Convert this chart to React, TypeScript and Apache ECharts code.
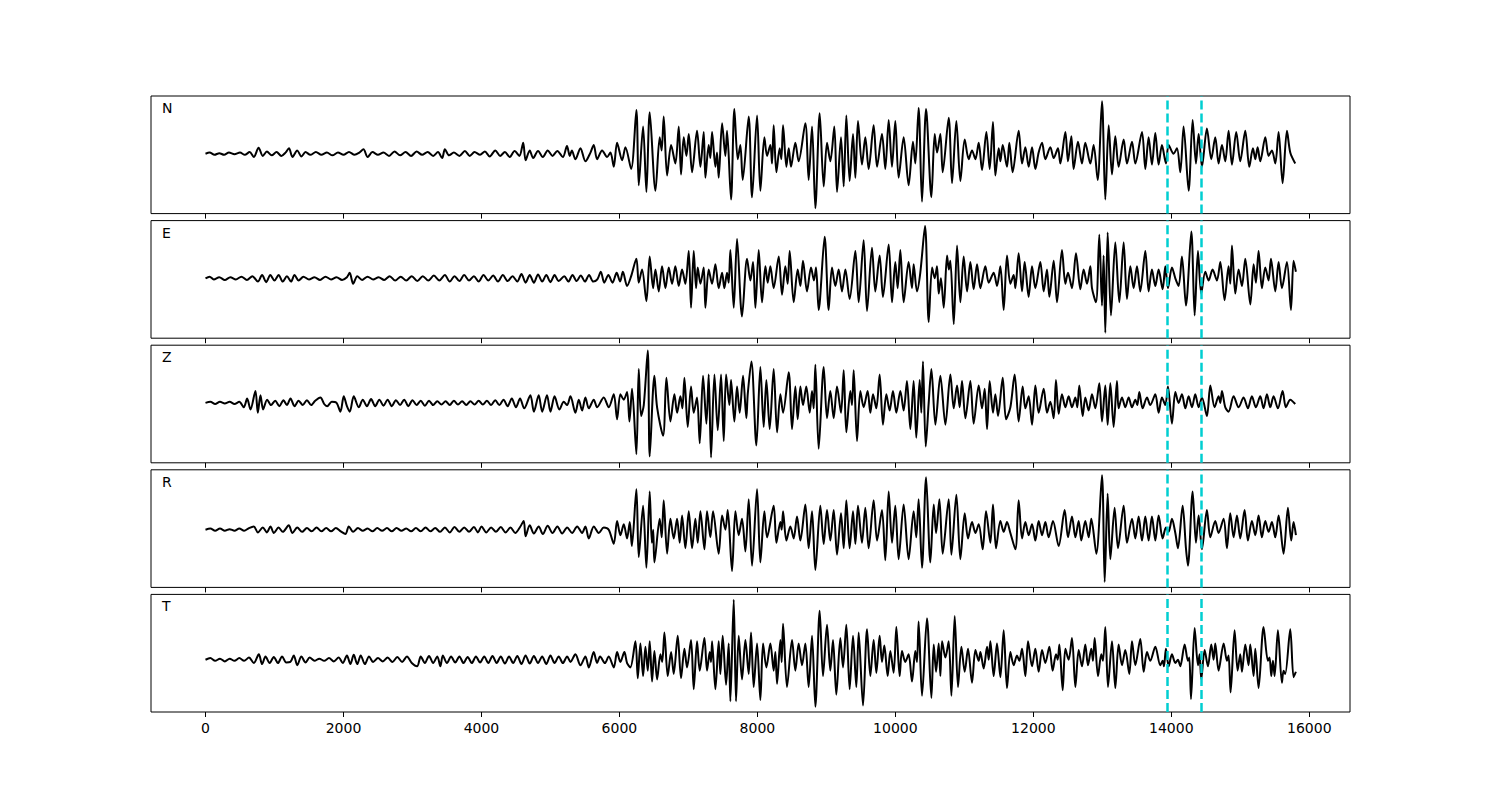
import React, { useEffect, useRef } from 'react';
import * as echarts from 'echarts';

const CHANNELS = ['N', 'E', 'Z', 'R', 'T'];
const MARKERS = [13940, 14430];
const X_TICKS = [0, 2000, 4000, 6000, 8000, 10000, 12000, 14000, 16000];
const X_MIN = -790;
const X_MAX = 16590;

const TRACE_N: number[][] = [[0,0],[60,1],[130,-1],[200,0.5],[270,-1],[340,1],[420,-0.5],[500,1],[570,-1],[640,1.5],[700,-3],[770,5.5],[830,-2],[890,2],[960,-1.5],[1030,1.5],[1100,-2],[1160,1],[1210,5],[1260,-3],[1330,3],[1390,-2.5],[1450,1.5],[1520,-1],[1600,1.5],[1680,-1],[1760,1],[1840,-1.5],[1920,1],[2000,-1],[2080,1.5],[2160,-1],[2230,1],[2290,4],[2350,-3],[2420,1.5],[2500,-1],[2580,1],[2660,-2],[2740,2],[2820,-1.5],[2900,1.5],[2980,-2],[3060,2],[3140,-1],[3220,1.5],[3300,-2],[3370,1.5],[3430,-4],[3470,4],[3530,-1.5],[3600,1],[3680,-2],[3760,2.5],[3830,-2],[3900,1.5],[3980,-1],[4050,2],[4120,-2.5],[4200,3],[4270,-2],[4340,1.5],[4410,-3],[4480,2.5],[4550,-2],[4605,10],[4640,-6],[4700,3],[4750,-4],[4820,2.5],[4890,-3],[4960,3],[5030,-2],[5100,2.5],[5180,-3],[5240,7],[5280,-2],[5310,3],[5362,-5],[5435,5],[5507,-7],[5580,1],[5628,8],[5676,-5],[5749,3],[5821,-3],[5870,1],[5918,-12],[5966,10],[6039,-6],[6087,6],[6170,-14],
[6246,40],[6280,-29],[6343,25],[6391,-35],[6439,38],[6522,-34],[6584,15],[6612,3],[6642,34],[6691,-20],[6749,8],[6811,-9],[6860,25],[6893,-19],[6932,15],[6971,-2],[7005,18],[7053,-17],[7125,21],[7174,-12],[7222,20],[7246,-22],[7294,8],[7318,-4],[7343,20],[7391,-12],[7415,1],[7439,-22],[7488,28],[7536,-2],[7560,21],[7618,-42],[7666,41],[7715,-5],[7753,8],[7787,-24],[7874,34],[7922,-40],[7995,35],[8043,-34],[8101,15],[8140,-2],[8188,8],[8212,-9],[8236,26],[8275,-17],[8323,5],[8347,-5],[8372,26],[8420,-12],[8454,5],[8487,-12],[8550,10],[8598,-7],[8695,28],[8743,-24],[8792,25],[8840,-50],[8903,37],[8961,-30],[9009,10],[9057,-7],[9115,25],[9154,-35],[9212,15],[9251,-30],[9289,35],[9337,-25],[9386,18],[9420,-22],[9458,30],[9516,-10],[9564,15],[9613,-14],[9685,26],[9734,-12],[9806,18],[9854,-14],[9903,31],[9951,-12],[9999,30],[10047,-22],[10120,15],[10192,-29],[10255,11],[10289,-9],[10337,42],[10386,-44],[10445,41],[10522,-40],[10570,18],[10604,1],[10652,18],[10686,-17],[10773,33],[10821,-27],[10884,30],[10942,-25],[11005,13],[11063,-5],[11111,3],[11160,-5],[11208,10],[11256,-15],[11319,20],[11367,-14],[11415,29],[11449,-20],[11498,5],[11522,-7],[11556,8],[11618,-12],[11652,10],[11700,-17],[11787,21],[11836,-9],[11884,6],[11932,-12],[11981,6],[12029,-14],[12077,1],[12126,10],[12174,-5],[12246,6],[12295,-4],[12357,5],[12391,-9],[12464,20],[12502,-7],[12551,16],[12584,-14],[12647,11],[12705,-9],[12753,10],[12826,-9],[12874,8],[12932,-24],[12995,48],[13043,-42],[13092,26],[13140,-19],[13188,16],[13236,-12],[13309,13],[13357,-9],[13430,11],[13478,-9],[13575,20],[13623,-14],[13671,15],[13719,-10],[13768,19],[13816,-10],[13864,8],[13922,-9],[13961,8],[14033,0],[14082,5],[14130,-17],[14178,25],[14251,-34],[14309,31],[14357,-9],[14396,18],[14444,-12],[14516,23],[14579,-5],[14637,15],[14685,-9],[14734,8],[14782,-7],[14830,21],[14879,-10],[14941,20],[14999,-7],[15072,21],[15130,-12],[15183,5],[15217,-5],[15251,6],[15289,-7],[15362,15],[15410,-2],[15458,3],[15507,-9],[15555,20],[15613,-27],[15676,21],[15724,1],[15796,-9]];

const TRACE_E: number[][] = [[0,0],[60,1.5],[120,-1],[200,1],[280,-1.5],[360,1],[440,-1],[520,1.5],[600,-1.5],[680,2],[760,-3],[820,3],[880,-3.5],[940,3],[1000,-2],[1060,3],[1120,-3],[1180,2],[1240,-3],[1290,3],[1350,-2],[1420,1.5],[1500,-1],[1580,1],[1660,-1.5],[1740,1.5],[1820,-1],[1900,1],[1980,-1.5],[2050,1],[2090,5],[2140,-5],[2200,2],[2270,-1.5],[2350,1.5],[2430,-1],[2510,1],[2590,-1.5],[2670,2],[2750,-2],[2830,1.5],[2910,-2],[2990,2],[3070,-2.5],[3150,2],[3230,-2],[3310,2.5],[3390,-2],[3470,3],[3540,-3],[3610,2],[3680,-2.5],[3750,3],[3820,-2],[3890,2],[3960,-3],[4030,3],[4100,-2],[4170,2.5],[4240,-3],[4310,3],[4380,-2.5],[4450,2],[4520,-3],[4580,4],[4640,-4],[4700,3],[4760,-4],[4820,3.5],[4880,-3],[4940,3],[5000,-3.5],[5060,3],[5120,-2.5],[5200,2],[5260,-3],[5320,3],[5380,-2.5],[5440,2.5],[5500,-3],[5560,3],[5620,-3],[5680,-1],[5730,6],[5780,-4],[5840,3],[5900,-4],[5960,5],[6010,-3],[6050,6],[6111,-7],[6170,2],
[6246,18],[6280,-4],[6328,8],[6391,-21],[6439,20],[6488,-9],[6522,8],[6570,-12],[6618,11],[6667,-9],[6715,10],[6763,-5],[6811,11],[6860,-7],[6908,8],[6956,-5],[7005,25],[7038,-27],[7077,25],[7111,-9],[7135,10],[7174,-5],[7222,10],[7246,-27],[7294,8],[7343,-5],[7391,13],[7439,-9],[7488,5],[7521,-9],[7560,5],[7584,-4],[7608,26],[7657,-27],[7705,36],[7777,-35],[7850,18],[7898,-2],[7937,15],[7971,-27],[8019,26],[8067,-22],[8116,11],[8149,-4],[8188,11],[8236,-9],[8309,20],[8357,-15],[8405,11],[8439,-5],[8468,25],[8526,-22],[8584,8],[8623,-7],[8661,16],[8719,-12],[8777,10],[8820,-2],[8850,10],[8888,-29],[8975,38],[9033,-29],[9081,10],[9130,-7],[9178,8],[9226,-12],[9275,8],[9337,-19],[9420,25],[9468,-22],[9540,35],[9589,-30],[9661,28],[9709,-12],[9772,21],[9820,-17],[9903,31],[9951,-22],[9999,15],[10033,-9],[10072,26],[10120,-22],[10192,15],[10241,-9],[10265,13],[10313,-12],[10361,5],[10430,48],[10483,-40],[10532,10],[10570,0],[10604,11],[10628,-14],[10660,0],[10701,-27],[10749,21],[10775,8],[10797,16],[10846,-42],[10894,30],[10942,-22],[10990,20],[11039,-12],[11087,15],[11135,-10],[11184,13],[11232,-9],[11304,11],[11353,-4],[11425,5],[11473,-7],[11522,11],[11570,-29],[11618,21],[11667,-5],[11715,3],[11739,-9],[11787,23],[11836,-12],[11874,15],[11932,-17],[11981,11],[12029,-9],[12101,15],[12150,-12],[12198,8],[12232,-17],[12295,16],[12343,-22],[12415,26],[12464,-5],[12502,5],[12560,-9],[12618,23],[12681,-10],[12729,8],[12778,-5],[12826,11],[12850,-9],[12908,-22],[12956,40],[12995,-25],[13019,21],[13043,-50],[13077,42],[13125,-34],[13188,33],[13246,-22],[13309,33],[13357,-19],[13406,11],[13454,-9],[13502,11],[13550,-12],[13623,25],[13671,-12],[13719,8],[13768,-7],[13816,8],[13874,-10],[13913,11],[13951,-9],[14009,10],[14058,0],[14106,-7],[14154,20],[14212,-25],[14290,43],[14338,-34],[14386,25],[14434,-14],[14492,6],[14541,-2],[14598,8],[14661,-2],[14710,15],[14772,-20],[14830,11],[14855,-5],[14879,30],[14927,-14],[14975,8],[15024,-7],[15072,18],[15145,-24],[15193,13],[15226,-4],[15265,25],[15313,-9],[15362,10],[15410,-2],[15444,18],[15507,-12],[15555,15],[15603,-9],[15676,15],[15734,-29],[15772,16],[15806,6]];

const TRACE_Z: number[][] = [[0,0],[70,1],[140,-1],[210,1],[280,-0.5],[350,1],[420,-1],[490,1],[555,-4],[604,4],[652,-6],[724,11],[758,-9],[797,7],[835,-6],[893,3],[950,-2],[1010,2],[1070,-3],[1130,2.5],[1180,-2],[1232,4],[1290,-3],[1350,2],[1410,-2],[1470,2.5],[1530,-2],[1590,2],[1666,5],[1720,-1],[1763,-3],[1830,1],[1900,0],[1956,-8],[2004,6],[2050,-3],[2091,-8],[2149,6],[2222,-4],[2280,3],[2340,-3],[2400,3.5],[2460,-3],[2520,3],[2580,-2.5],[2640,3],[2700,-3],[2760,2.5],[2820,-2],[2880,3],[2940,-3],[3000,2.5],[3060,-2],[3120,2],[3180,-2.5],[3240,2],[3300,-2],[3360,1.5],[3420,-1.5],[3480,1.5],[3540,-2],[3600,2],[3660,-1.5],[3720,1.5],[3780,-2],[3840,1.5],[3900,-1.5],[3960,2],[4020,-1.5],[4080,2],[4140,-2],[4200,2.5],[4260,-2],[4320,3],[4380,-3],[4440,4],[4500,-4],[4560,4],[4620,-5],[4709,7],[4760,-8],[4830,7],[4880,-8],[4950,7],[5000,-8],[5060,6],[5130,-6],[5193,1],[5242,-2],[5290,6],[5362,-9],[5411,3],[5459,-7],[5507,5],[5556,-5],[5628,3],[5676,-4],[5773,5],[5845,-4],[5918,8],[5966,-15],[6014,8],[6063,3],[6111,10],[6145,-17],[6183,13],
[6246,-47],[6280,31],[6314,-12],[6353,-2],[6411,48],[6439,-49],[6507,25],[6546,-4],[6633,-30],[6681,23],[6739,-17],[6797,8],[6836,-9],[6884,6],[6913,-5],[6942,23],[6990,-22],[7038,15],[7077,-9],[7125,5],[7164,-37],[7212,25],[7261,-19],[7294,26],[7328,-50],[7377,26],[7425,-25],[7473,26],[7512,-35],[7546,26],[7594,-2],[7618,21],[7666,-17],[7705,15],[7743,-9],[7792,25],[7840,-14],[7860,8],[7913,38],[7985,-39],[8043,33],[8091,-22],[8130,21],[8178,-24],[8236,31],[8285,-27],[8333,8],[8372,-9],[8454,28],[8502,-24],[8550,15],[8584,-15],[8623,15],[8661,-2],[8709,15],[8758,-9],[8792,11],[8816,-5],[8840,35],[8888,-42],[8961,33],[9009,-14],[9057,11],[9106,-14],[9154,15],[9212,-9],[9251,30],[9289,-27],[9347,11],[9371,-2],[9396,30],[9444,-35],[9492,11],[9540,-4],[9598,11],[9637,-9],[9676,8],[9724,-5],[9772,26],[9820,-20],[9869,8],[9917,-7],[9965,11],[10014,-9],[10072,11],[10120,-7],[10168,20],[10217,-24],[10265,20],[10303,-32],[10352,21],[10376,-9],[10400,38],[10440,-40],[10483,0],[10522,31],[10580,-20],[10652,25],[10725,-20],[10797,26],[10846,-5],[10894,16],[10932,-4],[10966,20],[11015,-14],[11087,20],[11135,-19],[11208,16],[11256,-5],[11295,13],[11329,-24],[11367,20],[11415,-9],[11449,8],[11488,-12],[11556,23],[11604,-15],[11667,-4],[11729,26],[11787,-17],[11845,15],[11884,-5],[11932,6],[11981,-20],[12029,16],[12077,-9],[12150,13],[12198,-9],[12246,1],[12295,-14],[12328,21],[12367,-10],[12415,8],[12464,-4],[12512,6],[12560,-4],[12609,5],[12637,-4],[12666,16],[12715,-12],[12753,5],[12802,-7],[12850,8],[12898,-5],[12956,18],[12995,-17],[13043,16],[13077,-20],[13116,18],[13164,-22],[13212,20],[13236,-5],[13285,5],[13333,-4],[13381,5],[13430,-4],[13478,3],[13507,-2],[13536,10],[13584,-5],[13647,5],[13695,-2],[13768,8],[13816,-9],[13864,5],[13913,-2],[13951,15],[14009,-19],[14058,10],[14106,0],[14154,8],[14203,-5],[14251,6],[14299,-4],[14347,8],[14396,-4],[14444,5],[14516,-12],[14565,16],[14627,-4],[14685,6],[14710,0],[14734,11],[14782,-4],[14830,-8],[14903,6],[14975,-4],[15048,5],[15110,-5],[15168,6],[15226,-4],[15289,6],[15337,-5],[15386,8],[15434,-4],[15482,6],[15545,-5],[15613,11],[15661,-4],[15724,3],[15796,-1]];

const TRACE_R: number[][] = [[0,0],[70,1],[140,-1],[210,1],[280,-1],[350,0.5],[420,-1],[490,1],[560,-1],[630,1.5],[700,3],[760,-2.5],[830,2],[890,-2.5],[942,3],[990,-3],[1060,2],[1120,-2],[1207,4],[1260,-3],[1330,2],[1400,-2],[1470,1.5],[1540,-1.5],[1610,2],[1680,-1.5],[1750,1.5],[1820,-1.5],[1890,1.5],[1960,-1.5],[2029,-4],[2077,3],[2140,-2],[2210,1.5],[2280,-1],[2350,1],[2420,-1.5],[2490,1.5],[2560,-1],[2630,1.5],[2700,-1.5],[2770,1.5],[2840,-1],[2910,1],[2980,-1.5],[3050,1.5],[3120,-1.5],[3190,2],[3260,-1.5],[3330,1.5],[3400,-2],[3470,2],[3540,-2.5],[3610,2.5],[3680,-2],[3750,2],[3820,-2],[3890,2.5],[3950,-2.5],[4000,3],[4070,-2.5],[4140,2],[4210,-2],[4280,2.5],[4350,-2.5],[4420,2],[4490,-3],[4560,2.5],[4613,8],[4640,-6],[4700,4],[4760,-3.5],[4830,3],[4890,-4],[4960,3.5],[5030,-3],[5100,3],[5170,-3.5],[5242,2],[5314,-3],[5387,3],[5459,-3],[5507,3],[5556,-8],[5628,3],[5700,-3],[5773,2],[5845,0],[5918,-13],[5966,8],[6014,-5],[6063,5],[6111,-8],[6150,7],[6180,-15],
[6246,37],[6280,-25],[6343,22],[6391,-35],[6439,35],[6470,-12],[6490,0],[6507,-30],[6584,10],[6613,-7],[6642,27],[6691,-22],[6739,10],[6787,-8],[6836,10],[6874,-12],[6908,13],[6956,-17],[7005,17],[7053,-17],[7101,10],[7135,-12],[7174,17],[7232,-18],[7270,17],[7318,-7],[7357,17],[7439,-22],[7488,13],[7536,0],[7570,18],[7632,-38],[7681,17],[7729,-5],[7777,10],[7826,-20],[7874,28],[7922,-33],[7995,37],[8043,-30],[8101,17],[8140,-7],[8236,22],[8275,-12],[8333,7],[8352,0],[8372,17],[8420,-10],[8478,3],[8526,-8],[8574,12],[8623,-10],[8695,23],[8743,-17],[8792,17],[8840,-37],[8912,22],[8961,-13],[9009,18],[9057,-10],[9106,18],[9154,-23],[9212,15],[9251,-17],[9289,27],[9337,-17],[9386,17],[9420,-13],[9458,22],[9516,-12],[9564,20],[9613,-17],[9685,27],[9734,-10],[9806,18],[9854,-28],[9903,35],[9951,-12],[9999,22],[10047,-27],[10120,23],[10192,-27],[10265,17],[10303,-7],[10337,28],[10386,-35],[10445,48],[10507,-30],[10556,23],[10590,-3],[10638,28],[10686,-22],[10773,28],[10812,-23],[10884,32],[10942,-27],[11005,15],[11053,-8],[11111,7],[11160,-3],[11208,5],[11266,-18],[11314,17],[11377,-12],[11415,23],[11459,-17],[11522,8],[11570,-2],[11618,7],[11667,-3],[11739,-18],[11787,27],[11836,-8],[11884,7],[11932,-5],[11981,5],[12029,-10],[12077,8],[12126,-5],[12174,7],[12222,-7],[12285,8],[12367,-15],[12454,18],[12502,-7],[12560,12],[12609,-7],[12657,8],[12695,-10],[12753,8],[12802,-7],[12840,10],[12913,-22],[12995,50],[13034,-48],[13077,33],[13116,-27],[13178,20],[13227,-17],[13309,22],[13357,-12],[13430,10],[13478,-8],[13526,12],[13575,-10],[13623,12],[13671,-10],[13719,12],[13768,-10],[13816,13],[13874,-8],[13922,2],[13961,-2],[14009,10],[14058,-3],[14096,-17],[14164,22],[14212,-17],[14241,-33],[14309,35],[14357,-12],[14396,13],[14444,-18],[14516,18],[14565,-7],[14637,8],[14685,-3],[14758,10],[14806,-17],[14854,15],[14903,-7],[14951,13],[14999,-8],[15062,18],[15110,-10],[15168,8],[15217,-5],[15265,13],[15313,-7],[15362,8],[15410,-2],[15458,7],[15507,-7],[15555,13],[15627,-22],[15690,20],[15738,-10],[15772,7],[15806,-5]];

const TRACE_T: number[][] = [[0,0],[70,1.5],[140,-1],[210,1],[280,-1.5],[350,1],[420,-1],[490,1.5],[560,-1],[630,2],[700,-3],[773,5],[820,-4],[870,3],[930,-3],[990,2.5],[1050,-3],[1110,3],[1170,-2.5],[1230,-2],[1280,4],[1330,-5],[1390,3],[1450,-2.5],[1510,2],[1580,-1],[1650,1],[1720,-1],[1790,1.5],[1860,-1.5],[1930,2],[1990,-3],[2050,4],[2100,-4],[2149,4.5],[2200,-4],[2250,4],[2310,-4],[2370,3],[2430,-2],[2500,1.5],[2570,-1.5],[2640,2],[2710,-2],[2780,2.5],[2850,-2],[2920,3],[2990,-3],[3067,-6],[3120,3],[3180,-3],[3240,3.5],[3300,-3],[3360,3],[3405,-6],[3440,4],[3500,-3],[3560,3],[3620,-2.5],[3680,3],[3740,-3],[3800,2.5],[3860,-3],[3920,3],[3980,-2.5],[4040,3],[4100,-3],[4160,3.5],[4220,-3],[4280,3],[4340,-3.5],[4400,3],[4460,-3],[4520,3.5],[4580,-4],[4640,4],[4700,-3.5],[4760,3.5],[4820,-3],[4880,3],[4940,-4],[5000,4],[5060,-3],[5120,3],[5180,-3],[5242,3],[5290,-2],[5362,5],[5435,-5],[5507,3],[5556,-7],[5628,7],[5676,-3],[5720,3],[5790,-3],[5845,3],[5918,-7],[5966,7],[6014,-2],[6072,7],[6111,-3],[6159,-7],
[6232,17],[6266,-17],[6304,15],[6343,-15],[6377,12],[6411,-10],[6439,17],[6473,-20],[6507,8],[6546,-18],[6594,5],[6620,-2],[6652,25],[6700,-15],[6749,7],[6787,-13],[6845,22],[6893,-17],[6942,10],[6980,-7],[7038,18],[7077,-27],[7125,17],[7164,-10],[7232,20],[7270,-10],[7309,7],[7328,-2],[7343,17],[7391,-27],[7439,17],[7463,-13],[7497,22],[7546,-23],[7584,15],[7608,-38],[7657,55],[7690,-38],[7729,22],[7777,-18],[7826,18],[7874,-13],[7908,25],[7946,-25],[7995,15],[8043,-37],[8082,15],[8130,-7],[8188,15],[8236,-10],[8260,7],[8285,-22],[8333,18],[8352,-2],[8372,33],[8429,-25],[8502,18],[8550,-10],[8598,15],[8647,-5],[8695,15],[8743,-25],[8792,22],[8840,-43],[8903,45],[8951,-15],[9009,32],[9057,-10],[9096,18],[9144,-32],[9202,20],[9241,-7],[9289,32],[9337,-27],[9386,22],[9434,-25],[9468,25],[9531,-42],[9589,28],[9637,-15],[9685,18],[9724,-12],[9772,22],[9806,-2],[9840,13],[9888,-15],[9927,8],[9975,-12],[10014,30],[10062,-15],[10096,8],[10144,-2],[10192,5],[10241,-20],[10289,8],[10313,-2],[10337,35],[10386,-33],[10458,38],[10522,-35],[10556,14],[10590,-11],[10628,15],[10652,-15],[10677,17],[10725,2],[10773,17],[10812,-33],[10860,40],[10908,-25],[10957,12],[11005,-11],[11053,10],[11111,-21],[11160,9],[11208,-1],[11232,7],[11280,-8],[11329,12],[11353,0],[11377,17],[11425,-15],[11473,15],[11522,-16],[11570,27],[11618,-26],[11667,7],[11715,-5],[11763,4],[11797,-1],[11836,10],[11884,-15],[11923,17],[11981,-6],[12029,10],[12077,-11],[12126,9],[12174,-3],[12232,12],[12280,-10],[12328,5],[12353,0],[12377,14],[12425,-28],[12464,10],[12512,0],[12560,20],[12609,-25],[12657,9],[12705,-6],[12753,14],[12792,-5],[12840,10],[12864,-1],[12889,20],[12937,-15],[12985,5],[13009,-1],[13043,30],[13082,-25],[13140,17],[13188,-26],[13236,14],[13285,-5],[13333,9],[13391,-13],[13430,17],[13478,-5],[13550,19],[13599,-11],[13647,7],[13695,-1],[13768,12],[13840,-5],[13874,-1],[13893,-6],[13922,10],[13961,-6],[14009,5],[14058,-3],[14096,0],[14130,-6],[14193,14],[14241,-1],[14261,2],[14285,-36],[14338,29],[14386,-5],[14410,5],[14434,-18],[14483,9],[14531,-6],[14579,14],[14613,0],[14637,15],[14685,-10],[14758,15],[14806,-1],[14830,4],[14859,-30],[14917,27],[14961,-10],[14999,5],[15024,-11],[15072,14],[15120,-5],[15144,14],[15193,-15],[15217,10],[15265,-26],[15337,30],[15400,-1],[15424,2],[15449,-15],[15473,-1],[15497,-15],[15545,27],[15603,-21],[15627,-10],[15651,-13],[15724,28],[15772,-16],[15806,-11]];

const TRACES = [TRACE_N, TRACE_E, TRACE_Z, TRACE_R, TRACE_T];

export default function App() {
  const ref = useRef<HTMLDivElement>(null);
  useEffect(() => {
    if (!ref.current) return;
    const chart = echarts.init(ref.current, null, { renderer: 'svg' });
    const top0 = 96;
    const step = 124.6;
    const h = 117.6;
    const font = 'DejaVu Sans';
    const grids = TRACES.map((_, i) => ({
      left: 151,
      right: 150,
      top: top0 + i * step,
      height: h,
      show: true,
      borderColor: '#000',
      borderWidth: 1,
      backgroundColor: 'transparent',
      containLabel: false,
    }));
    const xAxes = TRACES.map((_, i) => ({
      type: 'value',
      gridIndex: i,
      position: 'bottom',
      min: X_MIN,
      max: X_MAX,
      axisLine: { show: false, onZero: false },
      splitLine: { show: false },
      axisTick: {
        show: true,
        customValues: X_TICKS,
        length: 5,
        lineStyle: { color: '#000', width: 1 },
      },
      axisLabel: {
        show: i === TRACES.length - 1,
        customValues: X_TICKS,
        formatter: (v: number) => String(v),
        fontSize: 14,
        color: '#000',
        fontFamily: font,
        margin: 9,
      },
    }));
    const yAxes = TRACES.map((_, i) => ({
      type: 'value',
      gridIndex: i,
      show: false,
      min: (v: any) => v.min - 0.05 * (v.max - v.min),
      max: (v: any) => v.max + 0.05 * (v.max - v.min),
      splitLine: { show: false },
    }));
    const series = TRACES.map((tr, i) => ({
      type: 'line',
      name: CHANNELS[i],
      xAxisIndex: i,
      yAxisIndex: i,
      data: tr,
      showSymbol: false,
      symbol: 'none',
      smooth: 0.3,
      silent: true,
      lineStyle: { color: '#000', width: 2 },
      markLine: {
        silent: true,
        symbol: ['none', 'none'],
        label: { show: false },
        lineStyle: { color: '#00CED1', width: 2.5, type: [9, 4] },
        data: MARKERS.map((x) => ({ xAxis: x })),
      },
    }));
    const graphic = CHANNELS.map((c, i) => ({
      type: 'text',
      left: 162,
      top: top0 + i * step + 5,
      style: { text: c, fontSize: 14, fontFamily: font, fill: '#000' },
    }));
    chart.setOption({
      animation: false,
      backgroundColor: '#fff',
      grid: grids,
      xAxis: xAxes,
      yAxis: yAxes,
      series,
      graphic,
    });
    return () => chart.dispose();
  }, []);
  return (
    <div
      ref={ref}
      style={{ position: 'fixed', left: 0, top: 0, width: 1500, height: 800, background: '#fff' }}
    />
  );
}
